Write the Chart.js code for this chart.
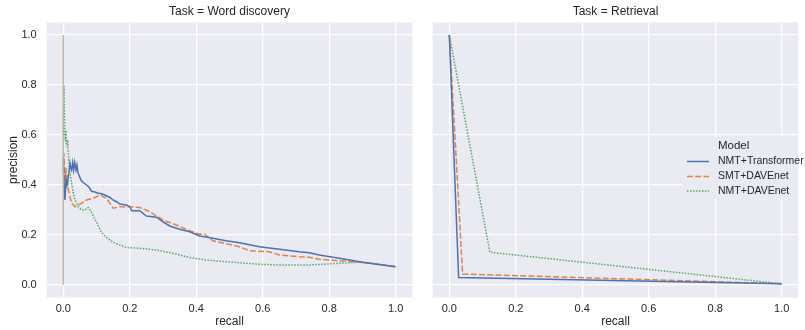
<!DOCTYPE html>
<html><head><meta charset="utf-8">
<script src="https://cdn.jsdelivr.net/npm/chart.js@4/dist/chart.umd.min.js"></script>
<style>
html,body{margin:0;padding:0;background:#fff;}
#wrap{position:relative;width:805px;height:330px;}
canvas{position:absolute;left:0;top:0;}
</style></head><body>
<div id="wrap"><canvas id="c1" width="805" height="330"></canvas><canvas id="c2" width="805" height="330"></canvas></div>
<script>
// ---- data ----
const panelTitles = ["Task = Word discovery", "Task = Retrieval"];
const seriesNames = ["NMT+Transformer", "SMT+DAVEnet", "NMT+DAVEnet"];
const xTicks = [0.0, 0.2, 0.4, 0.6, 0.8, 1.0];
const yTicks = [0.0, 0.2, 0.4, 0.6, 0.8, 1.0];

// Word discovery
const wdTransformerRecall = [0.0,0.003,0.005,0.008,0.011,0.015,0.02,0.022,0.025,0.028,0.031,0.034,0.038,0.041,0.044,0.047,0.053,0.06,0.065,0.07,0.078,0.085,0.095,0.105,0.115,0.125,0.14,0.15,0.16,0.17,0.19,0.2,0.206,0.23,0.25,0.28,0.30,0.32,0.35,0.38,0.41,0.45,0.49,0.53,0.59,0.65,0.71,0.74,0.77,0.83,0.91,1.0];
const wdTransformerPrecision = [0.51,0.36,0.34,0.42,0.40,0.43,0.487,0.47,0.46,0.49,0.46,0.49,0.46,0.48,0.45,0.44,0.42,0.41,0.405,0.40,0.39,0.375,0.372,0.367,0.365,0.36,0.35,0.34,0.333,0.324,0.32,0.313,0.297,0.297,0.276,0.271,0.253,0.236,0.223,0.213,0.196,0.187,0.177,0.169,0.153,0.143,0.133,0.129,0.12,0.107,0.089,0.073];

const wdSmtRecall = [0.0,0.002,0.004,0.006,0.008,0.01,0.012,0.015,0.02,0.025,0.035,0.045,0.055,0.07,0.09,0.11,0.13,0.15,0.17,0.2,0.23,0.26,0.30,0.34,0.38,0.41,0.425,0.45,0.53,0.56,0.62,0.65,0.71,0.74,0.77,0.83,0.91,1.0];
const wdSmtPrecision = [0.45,0.527,0.43,0.37,0.47,0.40,0.44,0.38,0.353,0.327,0.313,0.32,0.327,0.34,0.347,0.36,0.347,0.307,0.313,0.313,0.31,0.293,0.26,0.24,0.217,0.203,0.203,0.177,0.153,0.137,0.133,0.12,0.113,0.111,0.103,0.097,0.089,0.073];

const wdNmtDaveRecall = [0.0,0.002,0.004,0.006,0.008,0.01,0.013,0.016,0.02,0.025,0.03,0.035,0.045,0.055,0.065,0.075,0.085,0.10,0.115,0.13,0.15,0.19,0.23,0.28,0.33,0.38,0.43,0.49,0.53,0.59,0.65,0.74,0.81,0.89,0.93,1.0];
const wdNmtDavePrecision = [0.6,0.80,0.61,0.59,0.62,0.553,0.58,0.5,0.45,0.407,0.367,0.34,0.313,0.30,0.30,0.31,0.29,0.25,0.21,0.19,0.17,0.15,0.147,0.14,0.127,0.11,0.10,0.093,0.089,0.083,0.08,0.08,0.085,0.091,0.087,0.073];

const wdZeroRecall = [0.0, 0.0];
const wdZeroPrecision = [0.0, 1.0];

// Retrieval
const rtTransformerRecall = [0.0, 0.028, 1.0];
const rtTransformerPrecision = [1.0, 0.03, 0.005];
const rtSmtRecall = [0.0, 0.04, 1.0];
const rtSmtPrecision = [1.0, 0.044, 0.005];
const rtNmtDaveRecall = [0.0, 0.122, 1.0];
const rtNmtDavePrecision = [1.0, 0.131, 0.005];

// ---- styles ----
const COLORS = ["#4C72B0", "#DD8452", "#55A868"];
const DASHES = [[], [6, 2.25], [1.5, 1.5]];
const TEXT = "#262626";
const FONT = "'Liberation Sans', Arial, Helvetica, sans-serif";
Chart.defaults.font.family = FONT;
Chart.defaults.color = TEXT;

function pts(xs, ys) { return xs.map((x, i) => ({x: x, y: ys[i]})); }
function ds(label, xs, ys, i) {
  return {label: label, data: pts(xs, ys), borderColor: COLORS[i], borderWidth: 1.5,
    borderDash: DASHES[i], pointRadius: 0, tension: 0, fill: false};
}

const bgPlugin = {
  id: 'bg',
  beforeDraw(chart) {
    const a = chart.chartArea, c = chart.ctx;
    c.save(); c.fillStyle = '#EAEAF2';
    c.fillRect(a.left, a.top, a.right - a.left, a.bottom - a.top);
    c.restore();
  },
  afterDraw(chart, args, opts) {
    const a = chart.chartArea, c = chart.ctx;
    c.save();
    c.fillStyle = TEXT; c.font = "12px " + FONT;
    c.textAlign = 'center'; c.textBaseline = 'middle';
    c.fillText(opts.title, (a.left + a.right) / 2, 12);
    if (opts.legend) {
      c.fillStyle = '#EAEAF2';
      c.fillRect(683, 137, a.right - 683, 62);
      c.fillStyle = TEXT; c.textAlign = 'left';
      c.font = "11.5px " + FONT;
      c.fillText("Model", 718, 146);
      c.font = "10.5px " + FONT;
      const ys = [161.5, 176.5, 191];
      seriesNames.forEach((n, i) => {
        c.strokeStyle = COLORS[i]; c.lineWidth = 1.5; c.setLineDash(DASHES[i]);
        c.beginPath(); c.moveTo(687, ys[i]); c.lineTo(709, ys[i]); c.stroke();
        c.setLineDash([]);
        c.fillStyle = TEXT; c.fillText(n, 718, ys[i]);
      });
    }
    c.restore();
  }
};

function makePanel(id, title, datasets, padL, padR, yWidth, showY, legend) {
  return new Chart(document.getElementById(id), {
    type: 'line',
    data: {datasets: datasets},
    plugins: [bgPlugin],
    options: {
      responsive: false, animation: false, devicePixelRatio: 1,
      layout: {padding: {left: padL, right: padR, top: 22.5, bottom: 0}},
      plugins: {legend: {display: false}, tooltip: {enabled: false}, bg: {title: title, legend: legend}},
      scales: {
        x: {
          type: 'linear', min: -0.05, max: 1.05,
          afterBuildTicks: s => { s.ticks = xTicks.map(v => ({value: v})); },
          afterFit: s => { s.height = 32.5; },
          grid: {color: '#ffffff', lineWidth: 1.3, drawTicks: false},
          border: {display: false},
          ticks: {padding: 5, font: {size: 11}, color: TEXT, callback: v => v.toFixed(1), maxRotation: 0},
          title: {display: true, text: 'recall', font: {size: 12}, color: TEXT, padding: {top: 0, bottom: 1.5}}
        },
        y: {
          type: 'linear', min: -0.05, max: 1.05,
          afterBuildTicks: s => { s.ticks = yTicks.map(v => ({value: v})); },
          afterFit: s => { s.width = yWidth; },
          grid: {color: '#ffffff', lineWidth: 1.3, drawTicks: false},
          border: {display: false},
          ticks: {display: showY, padding: 10, font: {size: 11}, color: TEXT, callback: v => v.toFixed(1)},
          title: {display: showY, text: 'precision', font: {size: 12}, color: TEXT, padding: {top: 6, bottom: 0}}
        }
      }
    }
  });
}

const zeroLine = {label: 'zero', data: pts(wdZeroRecall, wdZeroPrecision), borderColor: 'rgba(188,176,158,0.9)',
  borderWidth: 1.5, pointRadius: 0, tension: 0, fill: false};

makePanel('c1', panelTitles[0], [
  zeroLine,
  ds(seriesNames[0], wdTransformerRecall, wdTransformerPrecision, 0),
  ds(seriesNames[1], wdSmtRecall, wdSmtPrecision, 1),
  ds(seriesNames[2], wdNmtDaveRecall, wdNmtDavePrecision, 2)
], 0, 805 - 412.3, 46.7, true, false);

makePanel('c2', panelTitles[1], [
  ds(seriesNames[0], rtTransformerRecall, rtTransformerPrecision, 0),
  ds(seriesNames[1], rtSmtRecall, rtSmtPrecision, 1),
  ds(seriesNames[2], rtNmtDaveRecall, rtNmtDavePrecision, 2)
], 422, 6.7, 10.7, false, true);
</script>
</body></html>
